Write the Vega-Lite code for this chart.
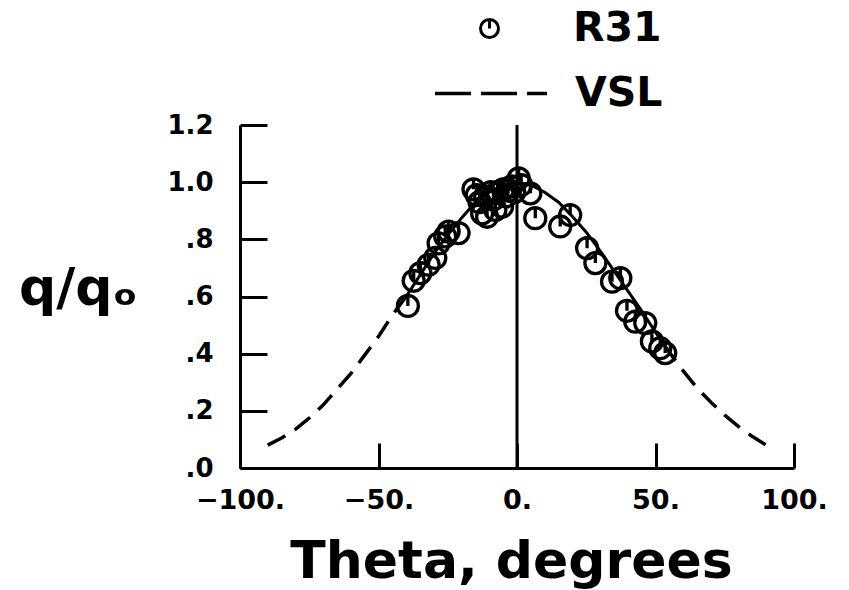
{
  "$schema": "https://vega.github.io/schema/vega-lite/v6.json",
  "width": 554,
  "height": 343,
  "autosize": "none",
  "padding": {"left": 240, "top": 125, "right": 55, "bottom": 122},
  "background": "white",
  "config": {"view": {"stroke": null}, "font": "DejaVu Sans", "axis": {"grid": false}},
  "datasets": {
    "r31": [
      {"theta": -39.4, "q": 0.567, "series": "R31"},
      {"theta": -37.3, "q": 0.655, "series": "R31"},
      {"theta": -34.9, "q": 0.682, "series": "R31"},
      {"theta": -31.9, "q": 0.711, "series": "R31"},
      {"theta": -29.5, "q": 0.735, "series": "R31"},
      {"theta": -28.3, "q": 0.786, "series": "R31"},
      {"theta": -25.9, "q": 0.81, "series": "R31"},
      {"theta": -24.7, "q": 0.827, "series": "R31"},
      {"theta": -21.1, "q": 0.822, "series": "R31"},
      {"theta": -15.7, "q": 0.975, "series": "R31"},
      {"theta": -14.5, "q": 0.955, "series": "R31"},
      {"theta": -13.5, "q": 0.93, "series": "R31"},
      {"theta": -12.6, "q": 0.891, "series": "R31"},
      {"theta": -10.8, "q": 0.879, "series": "R31"},
      {"theta": -11.5, "q": 0.95, "series": "R31"},
      {"theta": -9.5, "q": 0.965, "series": "R31"},
      {"theta": -8.5, "q": 0.94, "series": "R31"},
      {"theta": -7.8, "q": 0.903, "series": "R31"},
      {"theta": -7.0, "q": 0.965, "series": "R31"},
      {"theta": -5.4, "q": 0.914, "series": "R31"},
      {"theta": -5.0, "q": 0.975, "series": "R31"},
      {"theta": -4.0, "q": 0.95, "series": "R31"},
      {"theta": -3.0, "q": 0.97, "series": "R31"},
      {"theta": -2.0, "q": 0.985, "series": "R31"},
      {"theta": -1.0, "q": 0.965, "series": "R31"},
      {"theta": 0.6, "q": 1.013, "series": "R31"},
      {"theta": 1.5, "q": 0.99, "series": "R31"},
      {"theta": 4.8, "q": 0.961, "series": "R31"},
      {"theta": 6.6, "q": 0.874, "series": "R31"},
      {"theta": 15.6, "q": 0.845, "series": "R31"},
      {"theta": 19.2, "q": 0.885, "series": "R31"},
      {"theta": 25.3, "q": 0.769, "series": "R31"},
      {"theta": 28.3, "q": 0.717, "series": "R31"},
      {"theta": 34.3, "q": 0.652, "series": "R31"},
      {"theta": 37.3, "q": 0.664, "series": "R31"},
      {"theta": 39.7, "q": 0.55, "series": "R31"},
      {"theta": 42.7, "q": 0.512, "series": "R31"},
      {"theta": 46.3, "q": 0.507, "series": "R31"},
      {"theta": 48.7, "q": 0.443, "series": "R31"},
      {"theta": 51.7, "q": 0.419, "series": "R31"},
      {"theta": 53.5, "q": 0.402, "series": "R31"}
    ],
    "vslDash": [
      {"theta": -90, "q": 0.08, "seg": "L"},
      {"theta": -85, "q": 0.105, "seg": "L"},
      {"theta": -80, "q": 0.135, "seg": "L"},
      {"theta": -75, "q": 0.175, "seg": "L"},
      {"theta": -70, "q": 0.22, "seg": "L"},
      {"theta": -65, "q": 0.275, "seg": "L"},
      {"theta": -60, "q": 0.33, "seg": "L"},
      {"theta": -55, "q": 0.395, "seg": "L"},
      {"theta": -50, "q": 0.46, "seg": "L"},
      {"theta": -45, "q": 0.535, "seg": "L"},
      {"theta": -40, "q": 0.6, "seg": "L"},
      {"theta": 53, "q": 0.432, "seg": "R"},
      {"theta": 55, "q": 0.405, "seg": "R"},
      {"theta": 60, "q": 0.34, "seg": "R"},
      {"theta": 65, "q": 0.28, "seg": "R"},
      {"theta": 70, "q": 0.23, "seg": "R"},
      {"theta": 75, "q": 0.185, "seg": "R"},
      {"theta": 80, "q": 0.145, "seg": "R"},
      {"theta": 85, "q": 0.11, "seg": "R"},
      {"theta": 90, "q": 0.08, "seg": "R"}
    ],
    "vslSolid": [
      {"theta": -40, "q": 0.6},
      {"theta": -35, "q": 0.675},
      {"theta": -30, "q": 0.75},
      {"theta": -25, "q": 0.815},
      {"theta": -20, "q": 0.875},
      {"theta": -15, "q": 0.93},
      {"theta": -10, "q": 0.965},
      {"theta": -5, "q": 0.99},
      {"theta": 0, "q": 1.0},
      {"theta": 5, "q": 0.99},
      {"theta": 10, "q": 0.965},
      {"theta": 15, "q": 0.93},
      {"theta": 20, "q": 0.88},
      {"theta": 25, "q": 0.825},
      {"theta": 30, "q": 0.76},
      {"theta": 35, "q": 0.69},
      {"theta": 40, "q": 0.62},
      {"theta": 45, "q": 0.55},
      {"theta": 50, "q": 0.475},
      {"theta": 53, "q": 0.432}
    ],
    "vslKey": [{"theta": 0, "q": 0, "series": "VSL"}],
    "zeroline": [{"theta": 0, "q": 0, "q2": 1.2}]
  },
  "encoding": {
    "x": {
      "field": "theta",
      "type": "quantitative",
      "scale": {"domain": [-100, 100], "nice": false, "zero": false},
      "axis": {
        "values": [-100, -50, 0, 50, 100],
        "labelExpr": "(datum.value < 0 ? '−' : '') + format(abs(datum.value), 'd') + '.'",
        "labelFont": "DejaVu Sans",
        "labelFontSize": 27,
        "labelFontWeight": "bold",
        "labelColor": "black",
        "labelPadding": 44,
        "labelFlush": false,
        "labelOverlap": false,
        "labelBound": false,
        "tickSize": -25,
        "tickWidth": 3,
        "tickColor": "black",
        "domainWidth": 3,
        "domainColor": "black",
        "title": "Theta, degrees",
        "titleFont": "DejaVu Sans",
        "titleFontSize": 52,
        "titleFontWeight": "bold",
        "titleColor": "black",
        "titleX": 271,
        "titleY": 109,
        "titleAlign": "center",
        "titleBaseline": "alphabetic"
      }
    },
    "y": {
      "field": "q",
      "type": "quantitative",
      "scale": {"domain": [0, 1.2], "nice": false},
      "axis": {
        "values": [0, 0.2, 0.4, 0.6, 0.8, 1.0, 1.2],
        "labelExpr": "datum.value < 1 ? slice(format(datum.value, '.1f'), 1) : format(datum.value, '.1f')",
        "labelFont": "DejaVu Sans",
        "labelFontSize": 26,
        "labelFontWeight": "bold",
        "labelColor": "black",
        "labelPadding": 54,
        "labelFlush": false,
        "labelOverlap": false,
        "labelBound": false,
        "tickSize": -27,
        "tickWidth": 3,
        "tickColor": "black",
        "domainWidth": 3,
        "domainColor": "black",
        "title": "q/qₒ",
        "titleFont": "DejaVu Sans",
        "titleFontSize": 52,
        "titleFontWeight": "bold",
        "titleColor": "black",
        "titleAngle": 0,
        "titleX": -162,
        "titleY": 163,
        "titleAlign": "center",
        "titleBaseline": "middle"
      }
    }
  },
  "layer": [
    {
      "data": {"name": "vslDash"},
      "mark": {"type": "line", "color": "black", "strokeWidth": 3.5, "strokeDash": [20, 11]},
      "encoding": {"detail": {"field": "seg"}}
    },
    {
      "data": {"name": "vslSolid"},
      "mark": {"type": "line", "color": "black", "strokeWidth": 3}
    },
    {
      "data": {"name": "vslKey"},
      "mark": {"type": "line", "color": "black", "strokeWidth": 3.5, "opacity": 0},
      "encoding": {
        "strokeDash": {
          "field": "series",
          "type": "nominal",
          "scale": {"domain": ["VSL"], "range": [[36, 10]]},
          "legend": {
            "orient": "none",
            "legendX": 193,
            "legendY": -52,
            "title": null,
            "padding": 0,
            "symbolType": "stroke",
            "symbolSize": 12544,
            "symbolStrokeWidth": 3.5,
            "symbolStrokeColor": "black",
            "symbolOpacity": 1,
            "clipHeight": 41,
            "labelFont": "DejaVu Sans",
            "labelFontSize": 41,
            "labelFontWeight": "bold",
            "labelColor": "black",
            "labelOffset": 26,
            "labelLimit": 300
          }
        }
      }
    },
    {
      "data": {"name": "zeroline"},
      "mark": {"type": "rule", "color": "black", "strokeWidth": 3},
      "encoding": {"y2": {"field": "q2"}}
    },
    {
      "data": {"name": "r31"},
      "mark": {"type": "point", "filled": false, "color": "black", "strokeWidth": 3.3, "size": 440, "opacity": 1},
      "encoding": {
        "shape": {
          "field": "series",
          "type": "nominal",
          "scale": {"domain": ["R31"], "range": ["M-1,0A1,1,0,1,1,1,0A1,1,0,1,1,-1,0ZM0,-1L0,0"]},
          "legend": {
            "orient": "none",
            "legendX": 229,
            "legendY": -117,
            "title": null,
            "padding": 0,
            "symbolSize": 324,
            "symbolStrokeWidth": 3,
            "symbolStrokeColor": "black",
            "symbolFillColor": "transparent",
            "symbolOpacity": 1,
            "clipHeight": 41,
            "labelFont": "DejaVu Sans",
            "labelFontSize": 41,
            "labelFontWeight": "bold",
            "labelColor": "black",
            "labelOffset": 63,
            "labelLimit": 300
          }
        }
      }
    }
  ]
}
